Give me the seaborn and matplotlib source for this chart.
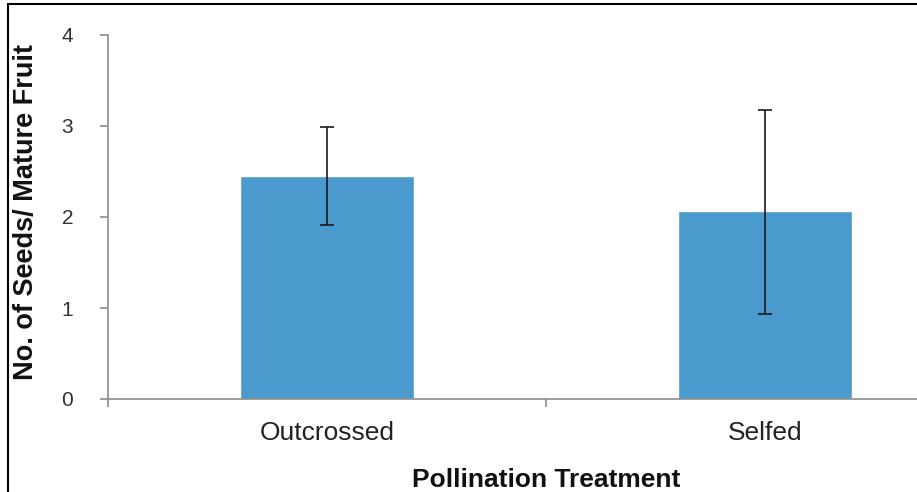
import numpy as np
import pandas as pd
import seaborn as sns
import matplotlib
matplotlib.use("Agg")
import matplotlib.pyplot as plt
from matplotlib.patches import Rectangle

categories = ["Outcrossed", "Selfed"]
means = [2.45, 2.07]
err_lower = [0.54, 1.14]
err_upper = [0.54, 1.11]
yticks = [0, 1, 2, 3, 4]

sns.set_theme(style="white")
plt.rcParams['font.family'] = ['Liberation Sans', 'DejaVu Sans']

W, H = 917, 492
fig = plt.figure(figsize=(W / 100, H / 100), dpi=100)
ax_left, ax_right, ax_top, ax_bottom = 108, 917, 35, 399
ax = fig.add_axes([ax_left / W, (H - ax_bottom) / H, (ax_right - ax_left) / W, (ax_bottom - ax_top) / H])

df = pd.DataFrame({"treatment": categories, "seeds": means})
sns.barplot(data=df, x="treatment", y="seeds", color="#4a9acd", saturation=1,
            width=0.395, errorbar=None, ax=ax)
ax.errorbar(x=np.arange(len(categories)), y=means, yerr=[err_lower, err_upper],
            fmt="none", ecolor="#1a1a1a", elinewidth=1.2, capsize=5, capthick=1.2, zorder=5)

ax.set_yticks(yticks)
ax.set_yticklabels([str(t) for t in yticks])
ax.set_xticks(np.arange(len(categories)))
ax.set_xticklabels(categories)
ax.set_xticks(np.arange(len(categories) + 1) - 0.5, minor=True)

cat_px = 438
ax.set_ylim(0, 4)
ax.set_xlim(-0.5, -0.5 + (ax_right - ax_left) / cat_px)

for s in ["top", "right"]:
    ax.spines[s].set_visible(False)
for s in ["left", "bottom"]:
    ax.spines[s].set_color("#8c8c8c")
    ax.spines[s].set_linewidth(1.2)

ax.tick_params(axis='y', which='major', left=True, length=6, width=1.2, color='#8c8c8c',
               direction='out', pad=19, labelsize=15, labelcolor='#333333')
ax.tick_params(axis='x', which='major', bottom=True, length=0, pad=16, labelsize=19,
               labelcolor='#222222')
ax.tick_params(axis='x', which='minor', bottom=True, length=6, width=1.2, color='#8c8c8c',
               direction='out')

ax.set_ylabel("No. of Seeds/ Mature Fruit", fontsize=19.5, fontweight="bold", color="#111111")
ax.set_xlabel("Pollination Treatment", fontsize=19, fontweight="bold", color="#111111")
ax.yaxis.set_label_coords((39 - ax_left) / (ax_right - ax_left), 0.514)
ax.xaxis.set_label_coords((546 - ax_left) / (ax_right - ax_left), -0.19)

fig.patches.append(Rectangle((8 / W, -0.05), 1.2, (H - 4) / H + 0.05, transform=fig.transFigure,
                             fill=False, ec='black', lw=1.5))

fig.savefig("out.png", dpi=100)
